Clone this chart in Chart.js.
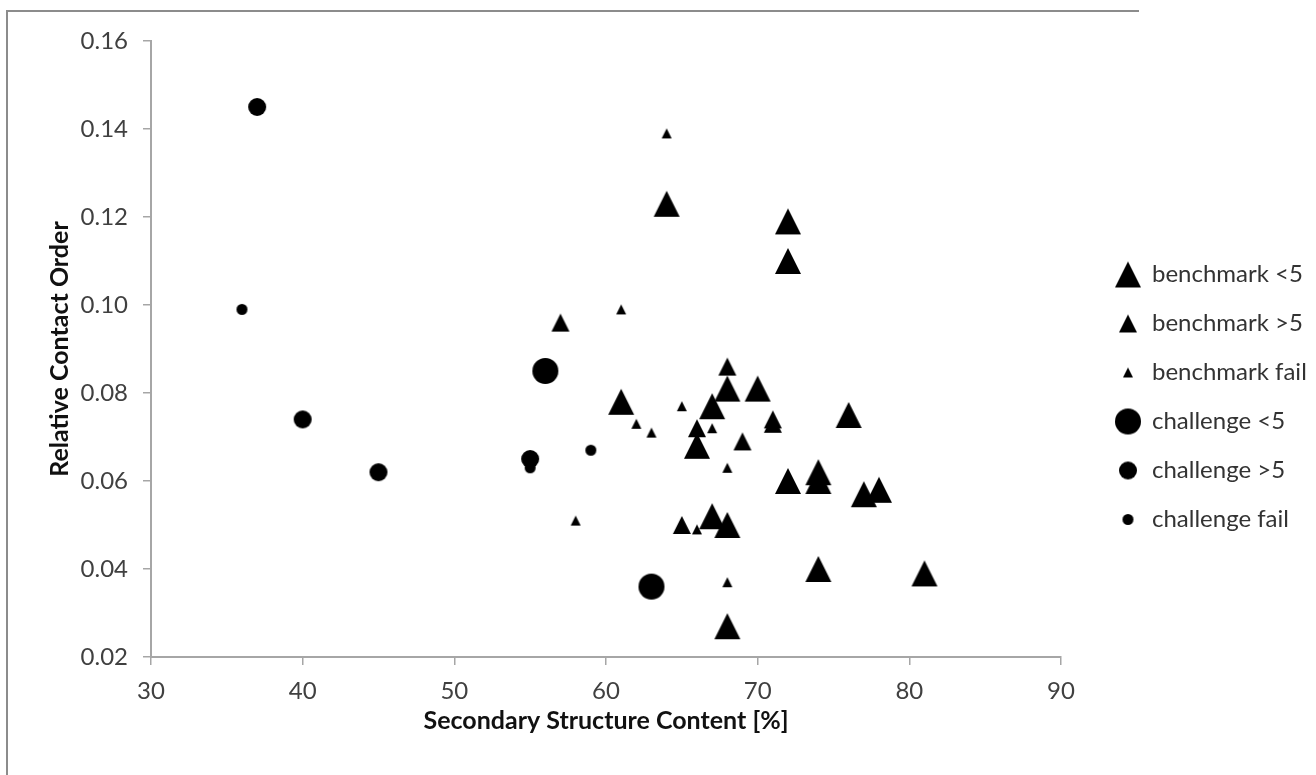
<!DOCTYPE html>
<html>
<head>
<meta charset="utf-8">
<script src="https://cdn.jsdelivr.net/npm/chart.js@4.4.0/dist/chart.umd.min.js"></script>
<style>
  html, body { margin: 0; padding: 0; background: #fff; overflow: hidden; }
  #frame {
    position: absolute; left: 6px; top: 10px; width: 1131px; height: 800px;
    border-left: 2px solid #8c8c8c; border-top: 2px solid #8c8c8c;
  }
  #contactChart { position: absolute; left: 0; top: 0; }
</style>
</head>
<body>
<div id="frame"></div>
<canvas id="contactChart" width="1316" height="775"></canvas>
<script>
// values
const benchLt5X = [64, 72, 72, 61, 67, 68, 70, 66, 76, 72, 74, 74, 77, 78, 67, 68, 74, 81, 68];
const benchLt5Y = [0.123, 0.119, 0.110, 0.078, 0.077, 0.081, 0.081, 0.068, 0.075, 0.060, 0.062, 0.060, 0.057, 0.058, 0.052, 0.050, 0.040, 0.039, 0.027];

const benchGt5X = [57, 68, 66, 71, 71, 69, 65];
const benchGt5Y = [0.096, 0.086, 0.072, 0.074, 0.073, 0.069, 0.050];

const benchFailX = [64, 61, 65, 62, 63, 67, 68, 58, 66, 68];
const benchFailY = [0.139, 0.099, 0.077, 0.073, 0.071, 0.072, 0.063, 0.051, 0.049, 0.037];

const challLt5X = [56, 63];
const challLt5Y = [0.085, 0.036];

const challGt5X = [37, 40, 45, 55];
const challGt5Y = [0.145, 0.074, 0.062, 0.065];

const challFailX = [36, 55, 59];
const challFailY = [0.099, 0.063, 0.067];

const seriesNames = ["benchmark <5", "benchmark >5", "benchmark fail", "challenge <5", "challenge >5", "challenge fail"];

// marker images (Excel style triangles / circles)
function triangleMarker(size) {
  const c = document.createElement("canvas");
  c.width = size + 2; c.height = size + 2;
  const g = c.getContext("2d");
  g.fillStyle = "#000";
  g.beginPath();
  g.moveTo(c.width / 2, 1);
  g.lineTo(c.width - 1, size + 1);
  g.lineTo(1, size + 1);
  g.closePath();
  g.fill();
  return c;
}
function circleMarker(size) {
  const c = document.createElement("canvas");
  c.width = size + 2; c.height = size + 2;
  const g = c.getContext("2d");
  g.fillStyle = "#000";
  g.beginPath();
  g.arc(c.width / 2, c.height / 2, size / 2, 0, Math.PI * 2);
  g.fill();
  return c;
}

function toPoints(xs, ys) {
  return xs.map((x, i) => ({ x: x, y: ys[i] }));
}

const markers = [
  triangleMarker(26), triangleMarker(18), triangleMarker(10),
  circleMarker(26), circleMarker(18), circleMarker(11)
];
const radii = [13, 9, 5, 13, 9, 5];
const allData = [
  toPoints(benchLt5X, benchLt5Y), toPoints(benchGt5X, benchGt5Y), toPoints(benchFailX, benchFailY),
  toPoints(challLt5X, challLt5Y), toPoints(challGt5X, challGt5Y), toPoints(challFailX, challFailY)
];

const datasets = seriesNames.map((name, i) => ({
  label: name,
  data: allData[i],
  pointStyle: markers[i],
  pointRadius: radii[i],
  backgroundColor: "#000",
  borderColor: "#000",
}));

// move legend to where Excel put it (and stop it clipping its text)
const legendNudge = {
  id: "legendNudge",
  afterLayout(chart) {
    const lg = chart.legend;
    lg.left += 30;
    lg.right = chart.width;
    lg.width = lg.right - lg.left;
    lg.top -= 11; lg.bottom -= 11;
  }
};

const axisColor = "#a6a6a6";
const tickFont = { family: "Lato", size: 24 };
const titleFont = { family: "Lato", size: 25, weight: "bold" };

const ctx = document.getElementById("contactChart").getContext("2d");
const contactChart = new Chart(ctx, {
  type: "scatter",
  data: { datasets: datasets },
  plugins: [legendNudge],
  options: {
    responsive: false,
    animation: false,
    layout: { padding: { left: 0, top: 41, right: 155, bottom: 0 } },
    plugins: {
      tooltip: { enabled: false },
      legend: {
        position: "right",
        maxWidth: 100,
        labels: {
          usePointStyle: true,
          padding: 25,
          color: "#333",
          font: tickFont,
        },
      },
    },
    scales: {
      x: {
        type: "linear",
        min: 30,
        max: 90,
        afterFit(scale) { scale.height = 118; },
        ticks: { stepSize: 10, padding: 12, color: "#404040", font: tickFont },
        grid: { drawOnChartArea: false, drawTicks: true, tickLength: 8, color: axisColor, lineWidth: 1.5 },
        border: { display: true, color: axisColor, width: 2 },
        title: {
          display: true,
          text: "Secondary Structure Content [%]",
          color: "#111",
          font: titleFont,
          padding: { top: 0, bottom: 39 },
        },
      },
      y: {
        type: "linear",
        min: 0.02,
        max: 0.16,
        afterFit(scale) { scale.width = 151; },
        ticks: {
          stepSize: 0.02,
          padding: 15,
          color: "#404040",
          font: tickFont,
          callback: (v) => v.toFixed(2),
        },
        grid: { drawOnChartArea: false, drawTicks: true, tickLength: 8, color: axisColor, lineWidth: 1.5 },
        border: { display: true, color: axisColor, width: 2 },
        title: {
          display: true,
          text: "Relative Contact Order",
          color: "#111",
          font: titleFont,
          padding: { top: 45, bottom: 0 },
        },
      },
    },
  },
});
</script>
</body>
</html>
